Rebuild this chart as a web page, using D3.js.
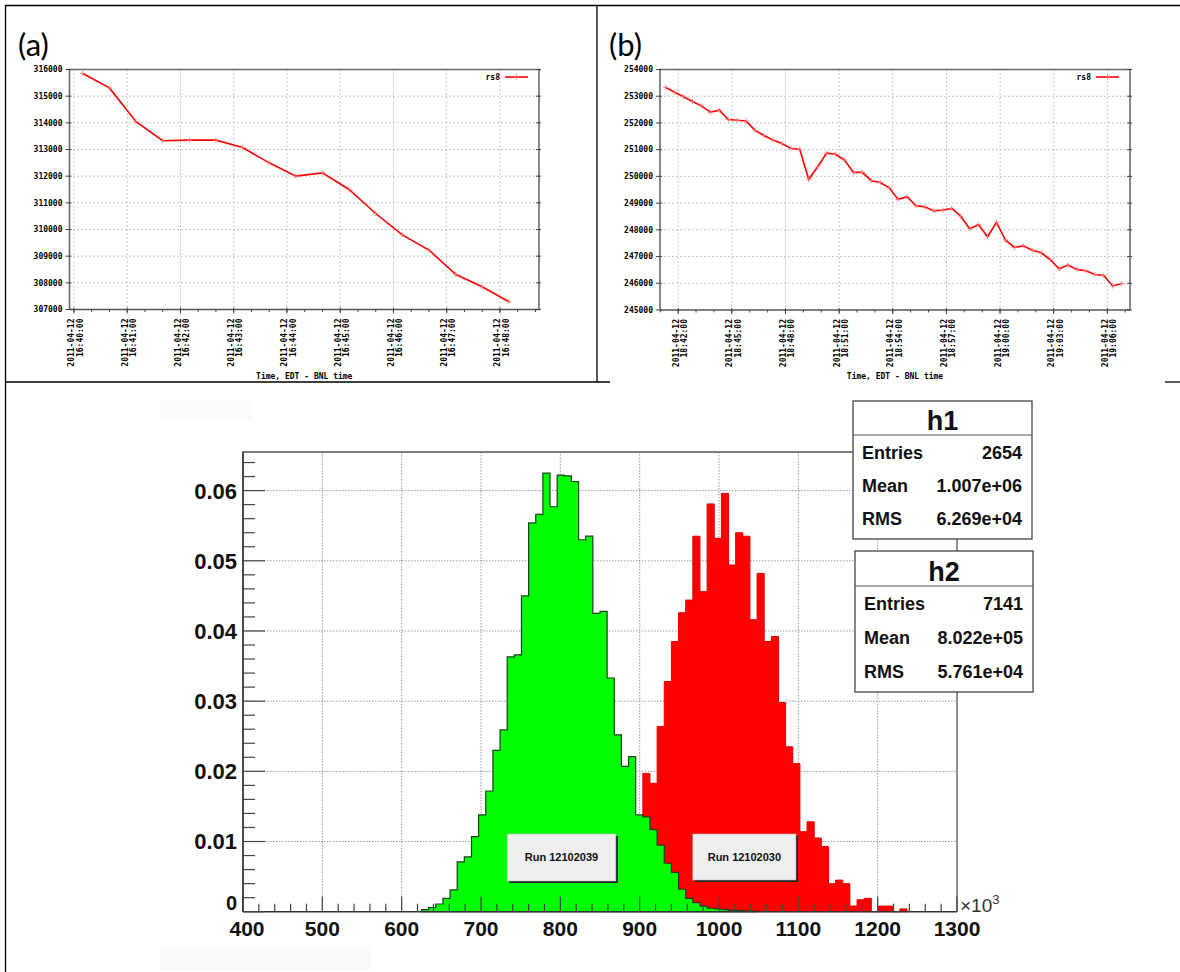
<!DOCTYPE html>
<html><head><meta charset="utf-8">
<script src="https://cdn.jsdelivr.net/npm/d3@7"></script>
<style>body{margin:0;background:#fff}svg{display:block}</style>
</head><body>
<svg id="c" width="1180" height="972"></svg>
<script>
// ---------------- DATA ----------------
const aTimes = ["2011-04-12 16:40:10","2011-04-12 16:40:40","2011-04-12 16:41:10","2011-04-12 16:41:40","2011-04-12 16:42:10","2011-04-12 16:42:40","2011-04-12 16:43:10","2011-04-12 16:43:40","2011-04-12 16:44:10","2011-04-12 16:44:40","2011-04-12 16:45:10","2011-04-12 16:45:40","2011-04-12 16:46:10","2011-04-12 16:46:40","2011-04-12 16:47:10","2011-04-12 16:47:40","2011-04-12 16:48:10"];
const aValues = [315850,315310,314040,313330,313350,313350,313075,312500,312000,312125,311500,310600,309800,309230,308320,307850,307290];
const aXDomain = ["2011-04-12 16:39:55","2011-04-12 16:48:44"];
const aYDomain = [307000,316000];

const bTimes = ["2011-04-12 18:41:18","2011-04-12 18:41:48","2011-04-12 18:42:18","2011-04-12 18:42:48","2011-04-12 18:43:18","2011-04-12 18:43:48","2011-04-12 18:44:18","2011-04-12 18:44:48","2011-04-12 18:45:18","2011-04-12 18:45:48","2011-04-12 18:46:18","2011-04-12 18:46:48","2011-04-12 18:47:18","2011-04-12 18:47:48","2011-04-12 18:48:18","2011-04-12 18:48:48","2011-04-12 18:49:18","2011-04-12 18:49:48","2011-04-12 18:50:18","2011-04-12 18:50:48","2011-04-12 18:51:18","2011-04-12 18:51:48","2011-04-12 18:52:18","2011-04-12 18:52:48","2011-04-12 18:53:18","2011-04-12 18:53:48","2011-04-12 18:54:18","2011-04-12 18:54:48","2011-04-12 18:55:18","2011-04-12 18:55:48","2011-04-12 18:56:18","2011-04-12 18:56:48","2011-04-12 18:57:18","2011-04-12 18:57:48","2011-04-12 18:58:18","2011-04-12 18:58:48","2011-04-12 18:59:18","2011-04-12 18:59:48","2011-04-12 19:00:18","2011-04-12 19:00:48","2011-04-12 19:01:18","2011-04-12 19:01:48","2011-04-12 19:02:18","2011-04-12 19:02:48","2011-04-12 19:03:18","2011-04-12 19:03:48","2011-04-12 19:04:18","2011-04-12 19:04:48","2011-04-12 19:05:18","2011-04-12 19:05:48","2011-04-12 19:06:18","2011-04-12 19:06:48"];
const bValues = [253330,253150,252980,252800,252640,252400,252480,252130,252100,252070,251720,251530,251360,251230,251050,251010,249890,250360,250870,250830,250610,250150,250150,249840,249770,249570,249140,249240,248900,248860,248710,248740,248800,248510,248040,248190,247740,248280,247620,247340,247400,247240,247140,246890,246540,246680,246520,246470,246330,246290,245900,245990];
const bXDomain = ["2011-04-12 18:40:59","2011-04-12 19:07:16"];
const bYDomain = [245000,254000];

const seriesName = "rs8";
const xAxisTitle = "Time, EDT - BNL time";

// histogram: 100 bins, 400..1300 (x10^3)
const histRange = [400,1300];
const histNBins = 100;
const greenFirstBin = 25;
const greenValues = [0.0003,0.0006,0.0011,0.0019,0.0031,0.0071,0.0078,0.0107,0.0138,0.0172,0.0230,0.0259,0.0363,0.0366,0.0450,0.0554,0.0566,0.0625,0.0577,0.0622,0.0621,0.0613,0.0530,0.0535,0.0425,0.0428,0.0333,0.0252,0.0207,0.0221,0.0138,0.0135,0.0117,0.0095,0.0069,0.0056,0.0032,0.0019,0.0013,0.0008,0.0005,0.0004,0.0003,0.0002,0.0002,0.0001,0.0001];
const redFirstBin = 50;
const redValues = [0.0002,0.0004,0.0008,0.0014,0.0030,0.0065,0.0197,0.0183,0.0264,0.0328,0.0385,0.0426,0.0444,0.0535,0.0456,0.0581,0.0532,0.0596,0.0494,0.0540,0.0535,0.0416,0.0482,0.0385,0.0392,0.0298,0.0235,0.0211,0.0114,0.0128,0.0105,0.0093,0.0040,0.0045,0.0040,0.0008,0.0017,0.0019,0,0.0008,0.0008,0,0.0004];
const histXTicks = [400,500,600,700,800,900,1000,1100,1200,1300];
const histYTicks = [0,0.01,0.02,0.03,0.04,0.05,0.06];
const histYMax = 0.0655;
const statsH1 = [["Entries","2654"],["Mean","1.007e+06"],["RMS","6.269e+04"]];
const statsH2 = [["Entries","7141"],["Mean","8.022e+05"],["RMS","5.761e+04"]];
const runLabels = ["Run 12102039","Run 12102030"];

// ---------------- DRAW ----------------
const svg = d3.select("#c");
const parse = d3.timeParse("%Y-%m-%d %H:%M:%S");
const mono = "'DejaVu Sans Mono', 'Liberation Mono', monospace";

// page frame lines
const frame = svg.append("g").attr("stroke","#000").attr("stroke-width",1.3);
frame.append("line").attr("x1",5).attr("y1",5.5).attr("x2",1180).attr("y2",5.5);
frame.append("line").attr("x1",5.5).attr("y1",5).attr("x2",5.5).attr("y2",972);
frame.append("line").attr("x1",597).attr("y1",5).attr("x2",597).attr("y2",382);
frame.append("line").attr("x1",5).attr("y1",382).attr("x2",610).attr("y2",382);
frame.append("line").attr("x1",1165).attr("y1",382).attr("x2",1180).attr("y2",382);

function panel(cfg){
  const g = svg.append("g");
  const x = d3.scaleTime().domain(cfg.xDomain.map(parse)).range([cfg.left,cfg.right]);
  const y = d3.scaleLinear().domain(cfg.yDomain).range([cfg.bottom,cfg.top]);
  const majors = x.ticks(cfg.major);
  const minors = x.ticks(cfg.minor);
  const yt = d3.range(cfg.yDomain[0], cfg.yDomain[1]+1, 1000);
  // grid
  const grid = g.append("g").attr("stroke","#b4b4b4").attr("stroke-width",1).attr("stroke-dasharray","1.5,2.5");
  majors.forEach(t=>grid.append("line").attr("x1",x(t)).attr("x2",x(t)).attr("y1",cfg.top).attr("y2",cfg.bottom));
  yt.slice(1,-1).forEach(v=>grid.append("line").attr("x1",cfg.left).attr("x2",cfg.right).attr("y1",y(v)).attr("y2",y(v)));
  // border
  g.append("path").attr("fill","none").attr("stroke","#6a6a6a").attr("stroke-width",1.6)
    .attr("d",`M${cfg.left},${cfg.bottom}V${cfg.top}H${cfg.right}V${cfg.bottom}`);
  g.append("line").attr("x1",cfg.left).attr("x2",cfg.right).attr("y1",cfg.bottom).attr("y2",cfg.bottom).attr("stroke","#555").attr("stroke-width",1.4);
  // y ticks + labels
  const ticks = g.append("g").attr("stroke","#444").attr("stroke-width",1);
  yt.forEach(v=>{
    ticks.append("line").attr("x1",cfg.left-4).attr("x2",cfg.left+2).attr("y1",y(v)).attr("y2",y(v));
    ticks.append("line").attr("x1",cfg.right-3).attr("x2",cfg.right+2).attr("y1",y(v)).attr("y2",y(v));
    g.append("text").attr("x",cfg.left-7).attr("y",y(v)).attr("dy","0.35em").attr("text-anchor","end")
      .attr("font-family",mono).attr("font-weight","bold").attr("font-size",8).text(v);
  });
  majors.forEach(t=>ticks.append("line").attr("x1",x(t)).attr("x2",x(t)).attr("y1",cfg.bottom-2).attr("y2",cfg.bottom+4));
  minors.forEach(t=>ticks.append("line").attr("x1",x(t)).attr("x2",x(t)).attr("y1",cfg.bottom).attr("y2",cfg.bottom+2.5));
  // x labels rotated
  const fd = d3.timeFormat("%Y-%m-%d"), ft = d3.timeFormat("%H:%M:%S");
  majors.forEach(t=>{
    const tg = g.append("g").attr("transform",`translate(${x(t)},${cfg.bottom+9}) rotate(-90)`);
    tg.append("text").attr("x",0).attr("y",0.5).attr("text-anchor","end").attr("font-family",mono)
      .attr("font-weight","bold").attr("font-size",8).text(fd(t));
    tg.append("text").attr("x",0).attr("y",8.8).attr("text-anchor","end").attr("font-family",mono)
      .attr("font-weight","bold").attr("font-size",8).text(ft(t));
  });
  g.append("text").attr("x",(cfg.left+cfg.right)/2).attr("y",cfg.bottom+69).attr("text-anchor","middle")
    .attr("font-family",mono).attr("font-weight","bold").attr("font-size",8).text(xAxisTitle);
  // line
  const pts = cfg.times.map((t,i)=>({t:parse(t),v:cfg.values[i]}));
  g.append("path").datum(pts).attr("fill","none").attr("stroke","#ff0000").attr("stroke-width",1.6)
    .attr("d",d3.line().x(d=>x(d.t)).y(d=>y(d.v)));
  const mk = g.append("g").attr("stroke","#ff7070").attr("stroke-width",0.9);
  pts.forEach(d=>{
    mk.append("path").attr("d",`M${x(d.t)-2.5},${y(d.v)}h5M${x(d.t)},${y(d.v)-2.5}v5`);
  });
  // legend
  const lx = cfg.right-34, ly = cfg.top+7.5;
  g.append("text").attr("x",lx-5).attr("y",ly).attr("dy","0.35em").attr("text-anchor","end")
    .attr("font-family",mono).attr("font-weight","bold").attr("font-size",8).text(seriesName);
  g.append("line").attr("x1",lx).attr("x2",lx+23).attr("y1",ly).attr("y2",ly).attr("stroke","#ff0000").attr("stroke-width",1.6);
  g.append("path").attr("d",`M${lx+9},${ly}h5M${lx+11.5},${ly-2.5}v5`).attr("stroke","#ff7070").attr("stroke-width",0.9);
  // panel letter
  svg.append("text").attr("x",cfg.letterX).attr("y",56).attr("font-family","Lato, 'Open Sans', sans-serif")
    .attr("font-size",31).attr("fill","#000").text(cfg.letter);
}

panel({left:69.5,right:539,top:69.5,bottom:309.5,xDomain:aXDomain,yDomain:aYDomain,times:aTimes,values:aValues,
  major:d3.timeMinute.every(1),minor:d3.timeSecond.every(20),letter:"(a)",letterX:18});
panel({left:660,right:1130,top:69.5,bottom:310,xDomain:bXDomain,yDomain:bYDomain,times:bTimes,values:bValues,
  major:d3.timeMinute.every(3),minor:d3.timeMinute.every(1),letter:"(b)",letterX:609});

// ---------------- HISTOGRAM ----------------
const H = {left:243,right:957,top:452,bottom:911.7};
const hx = d3.scaleLinear().domain(histRange).range([H.left,H.right]);
const hy = d3.scaleLinear().domain([0,histYMax]).range([H.bottom,H.top]);
const binW = (histRange[1]-histRange[0])/histNBins;
const edge = k => histRange[0]+k*binW;
const hg = svg.append("g");

// faint artifacts
hg.append("rect").attr("x",160).attr("y",400).attr("width",92).attr("height",20).attr("fill","#fbfbfb");
hg.append("rect").attr("x",160).attr("y",945).attr("width",212).attr("height",25).attr("fill","#fafafa");

// grid
const hgrid = hg.append("g").attr("stroke","#9a9a9a").attr("stroke-width",1).attr("stroke-dasharray","1.5,1.5");
histXTicks.slice(1,-1).forEach(v=>hgrid.append("line").attr("x1",hx(v)).attr("x2",hx(v)).attr("y1",H.top).attr("y2",H.bottom));
histYTicks.slice(1).forEach(v=>hgrid.append("line").attr("x1",H.left).attr("x2",H.right).attr("y1",hy(v)).attr("y2",hy(v)));

function stepPath(first, vals){
  let d = `M${hx(edge(first))},${hy(0)}`;
  vals.forEach((v,i)=>{ d += `V${hy(v)}H${hx(edge(first+i+1))}`; });
  d += `V${hy(0)}Z`;
  return d;
}
hg.append("path").attr("d",stepPath(redFirstBin,redValues)).attr("fill","#ff0000").attr("stroke","#e80000").attr("stroke-width",1);
hg.append("path").attr("d",stepPath(greenFirstBin,greenValues)).attr("fill","#00ff00").attr("stroke","#1d3f1d").attr("stroke-width",1.2);

// frame
hg.append("path").attr("fill","none").attr("stroke","#555").attr("stroke-width",1.3)
  .attr("d",`M${H.left},${H.bottom}V${H.top}H${H.right}V${H.bottom}`);
hg.append("line").attr("x1",H.left).attr("x2",H.right).attr("y1",H.bottom).attr("y2",H.bottom).attr("stroke","#333").attr("stroke-width",1.5);
hg.append("line").attr("x1",H.left).attr("x2",H.left).attr("y1",H.top).attr("y2",H.bottom).attr("stroke","#333").attr("stroke-width",1.5);

// ticks
const ht = hg.append("g").attr("stroke","#444").attr("stroke-width",1.2);
d3.range(0,0.0645,0.002).forEach((v,i)=>{
  const major = i%5===0;
  ht.append("line").attr("x1",H.left).attr("x2",H.left+(major?22:12)).attr("y1",hy(v)).attr("y2",hy(v));
});
d3.range(400,1301,20).forEach((v,i)=>{
  const major = i%5===0;
  ht.append("line").attr("x1",hx(v)).attr("x2",hx(v)).attr("y1",H.bottom).attr("y2",H.bottom-(major?15:8));
});
const arial = "'Liberation Sans', Arial, sans-serif";
histYTicks.forEach(v=>{
  hg.append("text").attr("x",H.left-6).attr("y",v===0?hy(v)-9:hy(v)).attr("dy","0.36em").attr("text-anchor","end")
    .attr("font-family",arial).attr("font-weight","bold").attr("font-size",v===0?20:22).attr("fill","#111")
    .text(v===0?"0":d3.format(".2f")(v));
});
histXTicks.forEach(v=>{
  hg.append("text").attr("x",v===400?hx(v)+4:hx(v)).attr("y",936).attr("text-anchor","middle")
    .attr("font-family",arial).attr("font-weight","bold").attr("font-size",21).attr("fill","#111").text(v);
});
const mult = hg.append("text").attr("x",960).attr("y",912).attr("font-family",arial).attr("font-size",19).attr("fill","#333");
mult.append("tspan").text("\u00d710");
mult.append("tspan").attr("dy",-8).attr("font-size",13).text("3");

// run labels
function runBox(x0,x1,yv0,yv1,label){
  const X0=hx(x0),X1=hx(x1),Y0=yv0,Y1=yv1;
  hg.append("rect").attr("x",X0+2).attr("y",Y0+2).attr("width",X1-X0).attr("height",Y1-Y0).attr("fill","#222");
  hg.append("rect").attr("x",X0).attr("y",Y0).attr("width",X1-X0).attr("height",Y1-Y0).attr("fill","#efefef").attr("stroke","#bbb").attr("stroke-width",0.6);
  hg.append("text").attr("x",(X0+X1)/2).attr("y",(Y0+Y1)/2).attr("dy","0.36em").attr("text-anchor","middle")
    .attr("font-family",arial).attr("font-weight","bold").attr("font-size",11).attr("fill","#111").text(label);
}
runBox(733,870,834,881,runLabels[0]);
runBox(967,1097,834,880,runLabels[1]);

// stats boxes
function statBox(x0,y0,w,title,rows,titleH,rowBase){
  const g = svg.append("g");
  const h = rowBase[rowBase.length-1]+14;
  g.append("rect").attr("x",x0).attr("y",y0).attr("width",w).attr("height",h).attr("fill","#fff").attr("stroke","#444").attr("stroke-width",1.3);
  g.append("line").attr("x1",x0).attr("x2",x0+w).attr("y1",y0+titleH).attr("y2",y0+titleH).attr("stroke","#555").attr("stroke-width",1.2);
  g.append("text").attr("x",x0+w/2).attr("y",y0+titleH-5).attr("text-anchor","middle").attr("font-family",arial)
    .attr("font-weight","bold").attr("font-size",27).attr("fill","#111").text(title);
  rows.forEach((r,i)=>{
    g.append("text").attr("x",x0+9).attr("y",y0+rowBase[i]).attr("font-family",arial).attr("font-weight","bold")
      .attr("font-size",18).attr("fill","#111").text(r[0]);
    g.append("text").attr("x",x0+w-10).attr("y",y0+rowBase[i]).attr("text-anchor","end").attr("font-family",arial).attr("font-weight","bold")
      .attr("font-size",18).attr("fill","#111").text(r[1]);
  });
}
statBox(853,401,179,"h1",statsH1,34,[58,91,124]);
statBox(855,551,178,"h2",statsH2,35,[59,93,127]);
</script>
</body></html>
